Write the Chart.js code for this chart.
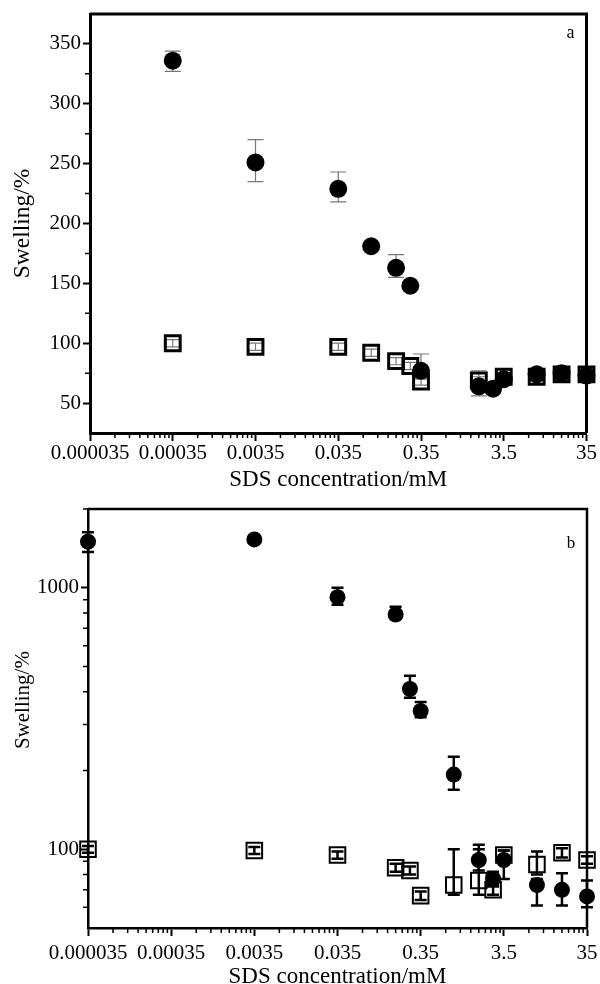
<!DOCTYPE html>
<html>
<head>
<meta charset="utf-8">
<script src="https://cdn.jsdelivr.net/npm/chart.js@4.4.0/dist/chart.umd.min.js"></script>
<style>
  body { margin: 0; background: #fff; }
  canvas { display: block; }
</style>
</head>
<body>
<canvas id="chartA" width="600" height="496"></canvas>
<canvas id="chartB" width="600" height="488"></canvas>
<script>
// ---- data ----
// x axis (both panels): SDS concentration, mM
const xTickValues = [0.000035, 0.00035, 0.0035, 0.035, 0.35, 3.5, 35];
const xTickLabels = ['0.000035', '0.00035', '0.0035', '0.035', '0.35', '3.5', '35'];

// panel a
const concA = [0.00035, 0.0035, 0.035, 0.0875, 0.175, 0.26, 0.35, 1.75, 2.6, 3.5, 8.75, 17.5, 35];
const filledA = [336, 251, 229, 181, 163, 148, 77, 64, 62, 70, 74, 75, 73];
const filledALo = [327, 235, 218, 178, 155, 145, 70, 56, 58, 66, 70, 72, 70];
const filledAHi = [344, 270, 243, 184, 174, 151, 91, 77, 66, 74, 78, 78, 76];
const concAOpen = [0.00035, 0.0035, 0.035, 0.0875, 0.175, 0.26, 0.35, 1.75, 3.5, 8.75, 17.5, 35];
const openA = [100, 97, 97, 92, 85, 81, 68, 69, 72, 72, 74, 74];
const openALo = [97, 94, 94, 89, 82, 78, 65, 66, 69, 69, 71, 71];
const openAHi = [103, 100, 100, 95, 88, 84, 71, 72, 75, 75, 77, 77];
const yTicksA = [50, 100, 150, 200, 250, 300, 350];
const yMinorA = [75, 125, 175, 225, 275, 325];

// panel b
const concB = [0.000035, 0.0035, 0.035, 0.175, 0.26, 0.35, 0.875, 1.75, 2.6, 3.5, 8.75, 17.5, 35];
const filledB = [1500, 1530, 920, 790, 410, 338, 193, 91, 77, 91, 73, 70, 66];
const filledBLo = [1370, 1500, 860, 764, 380, 320, 169, 83, 72, 77, 61, 61, 60];
const filledBHi = [1630, 1560, 1000, 845, 461, 366, 226, 100, 82, 99, 77, 81, 76];
const openB = [100, 99, 95, 85, 83, 66.5, 73, 76, 70, 95, 87.5, 97, 91];
const openBLo = [97, 96, 92, 82, 80, 64, 67, 67, 67, 88, 80, 93, 88];
const openBHi = [103, 102, 98, 88, 86, 69, 100, 104, 73, 99, 98, 101, 94];
const yTicksB = [100, 1000];
const yMinorB = [60, 70, 80, 90, 200, 300, 400, 500, 600, 700, 800, 900, 2000];

// minor log ticks between the 3.5x10^n majors
const xMinor = [];
for (let k = 0; k < xTickValues.length - 1; k++) {
  for (let m = 2; m <= 9; m++) xMinor.push(xTickValues[k] * m);
}

Chart.defaults.font.family = "'Liberation Serif', 'Times New Roman', serif";
Chart.defaults.color = '#000';

const toPts = (xs, ys) => xs.map((x, i) => ({x: x, y: ys[i]}));

// error bars, frame, minor ticks, panel letter
const sketch = {
  id: 'sketch',
  beforeDatasetsDraw(chart, args, opts) {
    const ctx = chart.ctx, sx = chart.scales.x, sy = chart.scales.y;
    ctx.save();
    ctx.strokeStyle = opts.errColor;
    ctx.lineWidth = opts.errWidth;
    opts.errors.forEach(e => {
      e.conc.forEach((c, i) => {
        const px = sx.getPixelForValue(c);
        const lo = sy.getPixelForValue(e.lo[i]);
        const hi = sy.getPixelForValue(e.hi[i]);
        ctx.beginPath();
        ctx.moveTo(px, lo); ctx.lineTo(px, hi);
        ctx.moveTo(px - opts.cap, lo); ctx.lineTo(px + opts.cap, lo);
        ctx.moveTo(px - opts.cap, hi); ctx.lineTo(px + opts.cap, hi);
        ctx.stroke();
      });
    });
    ctx.restore();
  },
  afterDraw(chart, args, opts) {
    const ctx = chart.ctx, a = chart.chartArea;
    const sx = chart.scales.x, sy = chart.scales.y;
    ctx.save();
    ctx.strokeStyle = '#000';
    ctx.lineWidth = opts.frame;
    ctx.beginPath();
    ctx.moveTo(a.left, a.top); ctx.lineTo(a.right, a.top); ctx.lineTo(a.right, a.bottom);
    ctx.stroke();
    ctx.lineWidth = 1.5;
    ctx.beginPath();
    xMinor.forEach(v => {
      const px = sx.getPixelForValue(v);
      ctx.moveTo(px, a.bottom); ctx.lineTo(px, a.bottom + 5);
    });
    opts.yMinor.forEach(v => {
      const py = sy.getPixelForValue(v);
      if (py < a.top || py > a.bottom) return;
      ctx.moveTo(a.left, py); ctx.lineTo(a.left - 5, py);
    });
    ctx.stroke();
    ctx.fillStyle = '#000';
    ctx.font = opts.letterSize + "px 'Liberation Serif', serif";
    ctx.textAlign = 'center';
    ctx.textBaseline = 'middle';
    ctx.fillText(opts.letter, a.right - 16, a.top + opts.letterDy);
    ctx.restore();
  }
};

function makeChart(id, cfg) {
  return new Chart(document.getElementById(id), {
    type: 'scatter',
    data: {
      datasets: [
        {
          data: cfg.filled,
          pointStyle: 'circle',
          pointRadius: cfg.circleR,
          backgroundColor: '#000',
          borderColor: '#000',
          borderWidth: 0,
          clip: false
        },
        {
          data: cfg.open,
          pointStyle: 'rect',
          pointRadius: cfg.rectR,
          backgroundColor: 'rgba(0,0,0,0)',
          borderColor: '#000',
          borderWidth: cfg.rectW,
          clip: false
        }
      ]
    },
    options: {
      responsive: false,
      animation: false,
      layout: {padding: cfg.padding},
      plugins: {
        legend: {display: false},
        tooltip: {enabled: false},
        sketch: cfg.sketch
      },
      scales: {
        x: {
          type: 'logarithmic',
          min: 0.000035,
          max: 35,
          afterBuildTicks: s => { s.ticks = xTickValues.map(v => ({value: v})); },
          afterFit: s => { s.height = cfg.xHeight; s.paddingLeft = 0; s.paddingRight = 0; },
          ticks: {
            autoSkip: false,
            maxRotation: 0,
            padding: cfg.xLabelPad,
            font: {size: 21},
            callback: (v, i) => xTickLabels[i]
          },
          grid: {drawOnChartArea: false, tickLength: 8, tickWidth: 2, tickColor: '#000'},
          border: {display: true, color: '#000', width: cfg.frame},
          title: {
            display: true,
            text: 'SDS concentration/mM',
            font: {size: 23, lineHeight: cfg.xTitleLH},
            padding: {top: 0, bottom: cfg.xTitlePad}
          }
        },
        y: {
          type: cfg.yType,
          min: cfg.yMin,
          max: cfg.yMax,
          afterBuildTicks: s => { s.ticks = cfg.yTicks.map(v => ({value: v})); },
          afterFit: s => { s.width = cfg.yWidth; s.paddingTop = 0; s.paddingBottom = 0; },
          ticks: {
            padding: 2,
            font: {size: 21},
            callback: v => String(v)
          },
          grid: {drawOnChartArea: false, tickLength: 7, tickWidth: 2, tickColor: '#000'},
          border: {display: true, color: '#000', width: cfg.frame},
          title: {
            display: true,
            text: cfg.yTitle,
            font: {size: cfg.yTitleSize},
            padding: {top: cfg.yTitlePad, bottom: 0}
          }
        }
      }
    },
    plugins: [sketch]
  });
}

makeChart('chartA', {
  filled: toPts(concA, filledA),
  open: toPts(concAOpen, openA),
  circleR: 9, rectR: 10.5, rectW: 3, frame: 3,
  padding: {top: 14, right: 11, left: 0, bottom: 0},
  xHeight: 63, xLabelPad: 0, xTitleLH: 1.2, xTitlePad: 2,
  yType: 'linear', yMin: 25, yMax: 375, yTicks: yTicksA, yWidth: 90,
  yTitle: 'Swelling/%', yTitleSize: 23.5, yTitlePad: 9,
  sketch: {
    errColor: '#777', errWidth: 1.2, cap: 8, frame: 3,
    errors: [
      {conc: concA, lo: filledALo, hi: filledAHi},
      {conc: concAOpen, lo: openALo, hi: openAHi}
    ],
    yMinor: yMinorA, letter: 'a', letterSize: 18, letterDy: 19
  }
});

makeChart('chartB', {
  filled: toPts(concB, filledB),
  open: toPts(concB, openB),
  circleR: 8, rectR: 11, rectW: 2, frame: 2.5,
  padding: {top: 12, right: 9, left: 0, bottom: 0},
  xHeight: 56, xLabelPad: 5, xTitleLH: 0.7, xTitlePad: -1,
  yType: 'logarithmic', yMin: 50, yMax: 2000, yTicks: yTicksB, yWidth: 88,
  yTitle: '       Swelling/%', yTitleSize: 21, yTitlePad: 11,
  sketch: {
    errColor: '#000', errWidth: 2.5, cap: 6, frame: 2.5,
    errors: [
      {conc: concB, lo: filledBLo, hi: filledBHi},
      {conc: concB, lo: openBLo, hi: openBHi}
    ],
    yMinor: yMinorB, letter: 'b', letterSize: 17, letterDy: 35
  }
});
</script>
</body>
</html>
